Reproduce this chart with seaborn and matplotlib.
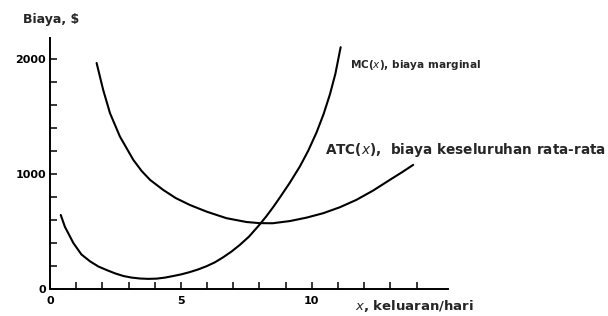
import matplotlib
matplotlib.use("Agg")
import matplotlib.pyplot as plt
import seaborn as sns
import pandas as pd

# values
mc_x = [0.41, 0.57, 0.89, 1.2, 1.53, 1.85, 2.16, 2.48, 2.80, 3.12, 3.44,
        3.75, 4.07, 4.39, 4.71, 5.03, 5.34, 5.66, 5.98, 6.3, 6.61, 6.93,
        7.25, 7.6, 7.95, 8.25, 8.52, 8.78, 9.15, 9.54, 9.86, 10.18, 10.45,
        10.69, 10.9, 11.1]
mc_y = [643, 540, 400, 300, 240, 195, 165, 136, 113, 99, 91,
        88, 90, 99, 113, 128, 147, 170, 198, 232, 275, 325,
        383, 455, 545, 628, 710, 795, 920, 1063, 1200, 1360, 1520,
        1690, 1870, 2100]

atc_x = [1.78, 2.03, 2.29, 2.67, 3.18, 3.5, 3.82, 4.32, 4.8, 5.34, 5.98,
         6.74, 7.5, 8.0, 8.5, 9.16, 9.8, 10.43, 11.07, 11.7, 12.34, 12.98,
         13.45, 13.87]
atc_y = [1963, 1730, 1528, 1324, 1122, 1025, 948, 861, 790, 730, 672,
         615, 582, 572, 571, 590, 620, 658, 710, 774, 855, 948,
         1015, 1078]

y_ticks = list(range(0, 2200, 200))
y_labels = ["0", "", "", "", "", "1000", "", "", "", "", "2000"]
x_ticks = list(range(0, 15))
x_labels = ["0", "", "", "", "", "5", "", "", "", "", "10", "", "", "", ""]

mc = pd.DataFrame({"x": mc_x, "y": mc_y})
atc = pd.DataFrame({"x": atc_x, "y": atc_y})

sns.set_style("ticks")
plt.rcParams['font.family'] = ['DejaVu Sans']

fig = plt.figure(figsize=(6.08, 3.16), dpi=100)
ax = fig.add_axes([50 / 608, 27 / 316, (448 - 50) / 608, (289 - 38) / 316])

sns.lineplot(data=mc, x="x", y="y", color="black", linewidth=1.5, ax=ax)
sns.lineplot(data=atc, x="x", y="y", color="black", linewidth=1.5, ax=ax)

ax.set_xlim(0, 15.2)
ax.set_ylim(0, 2180)
for s in ["top", "right"]:
    ax.spines[s].set_visible(False)
for s in ["left", "bottom"]:
    ax.spines[s].set_linewidth(1.4)
    ax.spines[s].set_color("black")

ax.set_xticks(x_ticks)
ax.set_xticklabels(x_labels, fontsize=8, fontweight="bold")
ax.set_yticks(y_ticks)
ax.set_yticklabels(y_labels, fontsize=8, fontweight="bold")
ax.tick_params(direction="in", length=5, width=1.1, colors="black", pad=3)
ax.tick_params(axis="x", pad=5)
ax.set_xlabel("")
ax.set_ylabel("")

fig.text(23 / 608, 1 - 20 / 316, "Biaya, $", fontsize=9, fontweight="bold",
         va="center", ha="left")
fig.text(350 / 608, 1 - 65 / 316, "MC($x$), biaya marginal", fontsize=7.6,
         fontweight="bold", va="center", ha="left")
fig.text(325 / 608, 1 - 150 / 316, "ATC($x$),  biaya keseluruhan rata-rata",
         fontsize=9.8, fontweight="bold", va="center", ha="left")
fig.text(355 / 608, 1 - 306 / 316, "$x$, keluaran/hari", fontsize=9.5,
         fontweight="bold", va="center", ha="left")

fig.savefig("out.png", dpi=100)
